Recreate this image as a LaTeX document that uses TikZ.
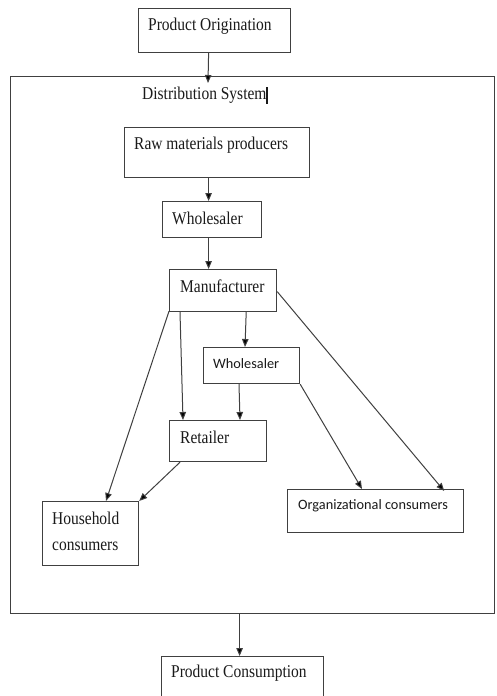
\documentclass[tikz,border=0pt]{standalone}
\usepackage{fontspec}
\setmainfont[FakeStretch=0.86]{Liberation Serif}
\newfontfamily\calib{Carlito}
\usetikzlibrary{arrows.meta}
\definecolor{boxline}{HTML}{404040}
\definecolor{txt}{HTML}{1A1A1A}
\tikzset{
  box/.style={draw=boxline, line width=1.2pt, anchor=north west, inner sep=0pt},
  lbl/.style={anchor=west, inner sep=0pt, text=txt, font=\fontsize{18}{26}\selectfont},
  slbl/.style={anchor=west, inner sep=0pt, text=txt, font=\calib\fontsize{14.3}{17}\selectfont},
  arr/.style={draw=boxline, line width=1pt, -{Triangle[length=8pt,width=6.5pt,fill=black]}}
}
\begin{document}
\begin{tikzpicture}[x=1pt,y=-1pt]
\clip (0,0) rectangle (497,696);
\fill[white] (0,0) rectangle (497,696);
% boxes
\node[box, minimum width=152pt, minimum height=44pt] (po) at (138,8) {};
\node[box, minimum width=484pt, minimum height=537pt] (ds) at (10,76) {};
\node[box, minimum width=185pt, minimum height=50pt] (raw) at (124,127) {};
\node[box, minimum width=99pt, minimum height=36pt] (w1) at (162,201) {};
\node[box, minimum width=107pt, minimum height=42pt] (man) at (169,269) {};
\node[box, minimum width=96pt, minimum height=36pt] (w2) at (203,347) {};
\node[box, minimum width=97pt, minimum height=41pt] (ret) at (169,420) {};
\node[box, minimum width=96pt, minimum height=64pt] (hh) at (42,501) {};
\node[box, minimum width=176pt, minimum height=43pt] (org) at (287,489) {};
\node[box, minimum width=162pt, minimum height=60pt] (pc) at (161,656) {};
% texts
\node[lbl] (pot) at (148,26) {Product Origination};
\node[lbl] (dst) at (142,95) {Distribution System};
\draw[line width=1.3pt, txt] (267,87) -- (267,104);
\node[lbl] (rawt) at (134,145) {Raw materials producers};
\node[lbl] (w1t) at (172,218) {Wholesaler};
\node[lbl] (mant) at (180,286) {Manufacturer};
\node[slbl] (w2t) at (213,364) {Wholesaler};
\node[lbl] (rett) at (180,437) {Retailer};
\node[lbl, align=left] (hht) at (52,531) {Household\\consumers};
\node[slbl] (orgt) at (298,506) {Organizational consumers};
\node[lbl] (pct) at (171,673) {Product Consumption};
% connectors
\coordinate (dsin) at (208,83);
\draw[arr] ([xshift=-6pt]po.south) -- (dsin);
\draw[arr] ([xshift=-8.5pt]raw.south) -- ([xshift=-3.5pt]w1.north);
\draw[arr] ([xshift=-3.5pt]w1.south) -- ([xshift=-14.5pt]man.north);
\draw[arr] ([xshift=-31pt]man.south east) -- ([xshift=42pt]w2.north west);
\draw[arr] ([xshift=11pt]man.south west) -- ([xshift=14pt]ret.north west);
\draw[arr] ([xshift=36pt]w2.south west) -- ([xshift=71pt]ret.north west);
\draw[arr] ([yshift=1pt]man.south west) -- ([xshift=64pt]hh.north west);
\draw[arr] ([xshift=11pt]ret.south west) -- (hh.north east);
\draw[arr] ([yshift=-1pt]man.east) -- ([xshift=-20pt,yshift=-2pt]org.north east);
\draw[arr] (w2.south east) -- ([xshift=75pt]org.north west);
\draw[arr] ([xshift=-13pt]ds.south) -- ([xshift=-3pt]pc.north);
\end{tikzpicture}
\end{document}
